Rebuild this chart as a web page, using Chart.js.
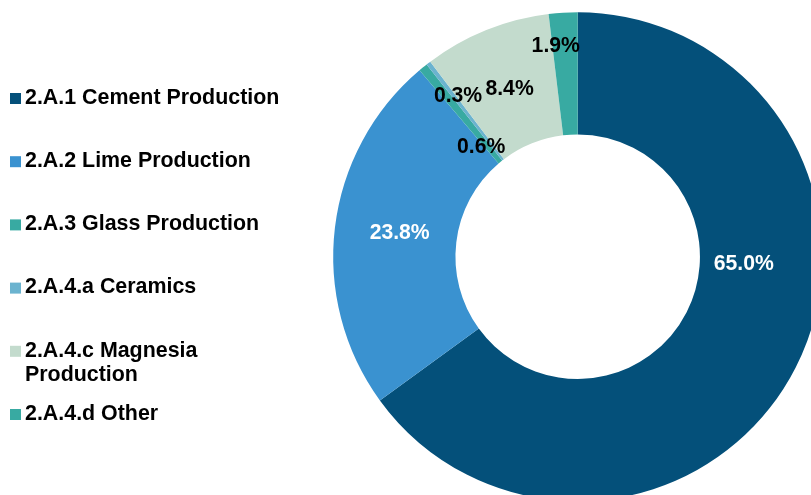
<!DOCTYPE html>
<html>
<head>
<meta charset="utf-8">
<script src="https://cdn.jsdelivr.net/npm/chart.js@4/dist/chart.umd.min.js"></script>
<style>
  html, body { margin: 0; padding: 0; background: #fff; overflow: hidden; }
  #wrap { position: absolute; left: 0; top: 0; width: 840px; height: 520px; }
</style>
</head>
<body>
<div id="wrap"><canvas id="chart"></canvas></div>
<script>
const categories = [
  "2.A.1 Cement Production",
  "2.A.2 Lime Production",
  "2.A.3 Glass Production",
  "2.A.4.a Ceramics",
  ["2.A.4.c Magnesia", "Production"],
  "2.A.4.d Other"
];
const shares = [65.0, 23.8, 0.6, 0.3, 8.4, 1.9];
const colors = ["#04507a", "#3a92d0", "#38aaa2", "#6bb3cf", "#c3dbcd", "#38aaa2"];
const labelColors = ["#fff", "#fff", "#000", "#000", "#000", "#000"];

// label nudges: position across the ring (0 inner, 1 outer) and angle shift in degrees
const labelRing = [0.36, 0.47, 0.2, 0.645, 0.49, 0.74];
const labelTurn = [-24.8, 1.0, -1.9, 1.1, 0, -2.5];

const FONT = '"Liberation Sans", Arial, sans-serif';

const sideLegend = {
  id: "sideLegend",
  afterDraw(chart) {
    const ctx = chart.ctx;
    const ds = chart.data.datasets[0];
    ctx.save();
    ctx.font = "bold 21.4px " + FONT;
    ctx.textBaseline = "middle";
    ctx.textAlign = "left";
    chart.data.labels.forEach((lab, i) => {
      const y = 98 + i * 63.2;
      ctx.fillStyle = ds.backgroundColor[i];
      ctx.fillRect(10, y - 5, 11, 11);
      ctx.fillStyle = "#000";
      const lines = Array.isArray(lab) ? lab : [lab];
      lines.forEach((t, j) => ctx.fillText(t, 25, y + j * 24.5));
    });
    ctx.restore();
  }
};

const sliceLabels = {
  id: "sliceLabels",
  afterDatasetsDraw(chart) {
    const ctx = chart.ctx;
    const meta = chart.getDatasetMeta(0);
    ctx.save();
    ctx.font = "bold 21.2px " + FONT;
    ctx.textAlign = "center";
    ctx.textBaseline = "middle";
    meta.data.forEach((arc, i) => {
      const p = arc.getProps(["x", "y", "startAngle", "endAngle", "innerRadius", "outerRadius"], true);
      const a = (p.startAngle + p.endAngle) / 2 + labelTurn[i] * Math.PI / 180;
      const r = p.innerRadius + (p.outerRadius - p.innerRadius) * labelRing[i];
      ctx.fillStyle = labelColors[i];
      ctx.fillText(shares[i].toFixed(1) + "%", p.x + r * Math.cos(a), p.y + r * Math.sin(a) + 1);
    });
    ctx.restore();
  }
};

new Chart(document.getElementById("chart"), {
  type: "doughnut",
  data: {
    labels: categories,
    datasets: [{
      data: shares,
      backgroundColor: colors,
      borderWidth: 0,
      hoverOffset: 0,
      offset: 0
    }]
  },
  options: {
    responsive: true,
    maintainAspectRatio: false,
    animation: false,
    cutout: "50%",
    layout: { padding: { left: 333.2, top: 12.2, right: 17.8, bottom: 18.8 } },
    plugins: {
      legend: { display: false },
      tooltip: { enabled: false }
    }
  },
  plugins: [sliceLabels, sideLegend]
});
</script>
</body>
</html>
